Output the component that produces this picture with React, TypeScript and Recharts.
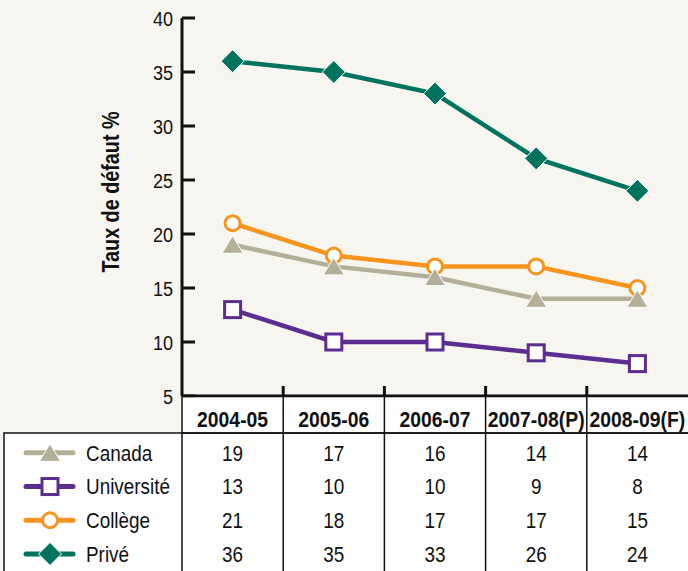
import React from "react";
import { LineChart, Line, XAxis, YAxis } from "recharts";

const years = ["2004-05", "2005-06", "2006-07", "2007-08(P)", "2008-09(F)"];
const canada = [19, 17, 16, 14, 14];
const universite = [13, 10, 10, 9, 8];
const college = [21, 18, 17, 17, 15];
// the plotted point for 2007-08 sits at 27, the table prints 26
const prive = [36, 35, 33, 27, 24];
const priveTable = [36, 35, 33, 26, 24];
const yTicks = [5, 10, 15, 20, 25, 30, 35, 40];

const BG = "#f6f5f0";
const FONT = "'Liberation Sans', Arial, sans-serif";
const SQUEEZE = 0.86; // no narrow font installed, so squeeze the regular one

const W = 688;
const H = 571;
const PLOT_LEFT = 182;
const PLOT_TOP = 18;
const PLOT_BOTTOM = 396;
const COL_W = (W - PLOT_LEFT) / years.length;

const series = [
  { key: "canada", name: "Canada", color: "#b3af99", shape: "triangle", table: canada },
  { key: "universite", name: "Université", color: "#5c2d91", shape: "square", table: universite },
  { key: "college", name: "Collège", color: "#f7941d", shape: "circle", table: college },
  { key: "prive", name: "Privé", color: "#00735e", shape: "diamond", table: priveTable },
];

const data = years.map((year, i) => ({
  year,
  canada: canada[i],
  universite: universite[i],
  college: college[i],
  prive: prive[i],
}));

function NText({
  x,
  y,
  size,
  anchor = "middle",
  bold = false,
  rotate = 0,
  children,
}: {
  x: number;
  y: number;
  size: number;
  anchor?: "start" | "middle" | "end";
  bold?: boolean;
  rotate?: number;
  children: React.ReactNode;
}) {
  return (
    <text
      transform={`translate(${x} ${y}) rotate(${rotate}) scale(${SQUEEZE} 1)`}
      textAnchor={anchor}
      dy="0.36em"
      fontFamily={FONT}
      fontSize={size}
      fontWeight={bold ? "bold" : "normal"}
      fill="#111"
    >
      {children}
    </text>
  );
}

function Marker({ shape, color, cx, cy }: { shape: string; color: string; cx: number; cy: number }) {
  if (shape === "triangle") {
    return (
      <polygon
        points={`${cx},${cy - 9} ${cx + 10.5},${cy + 8.5} ${cx - 10.5},${cy + 8.5}`}
        fill={color}
        stroke="#fff"
        strokeWidth={1}
      />
    );
  }
  if (shape === "square") {
    return <rect x={cx - 8} y={cy - 8} width={16} height={16} fill="#fff" stroke={color} strokeWidth={3} />;
  }
  if (shape === "circle") {
    return <circle cx={cx} cy={cy} r={7.5} fill="#fff" stroke={color} strokeWidth={3} />;
  }
  return (
    <polygon
      points={`${cx},${cy - 11.5} ${cx + 11.5},${cy} ${cx},${cy + 11.5} ${cx - 11.5},${cy}`}
      fill={color}
      stroke="#fff"
      strokeWidth={1}
    />
  );
}

const YTick = (props: any) => {
  const { x, y, payload } = props;
  return (
    <g>
      <line x1={x + 9} x2={x + 22} y1={y} y2={y} stroke="#111" strokeWidth={3} />
      <NText x={x} y={y} size={21} anchor="end">
        {payload.value}
      </NText>
    </g>
  );
};

// draw order: orange below, then grey, purple, teal
const drawOrder = ["college", "canada", "universite", "prive"];

export default function App() {
  const rowTop = 436;
  const rowH = 33.7;
  return (
    <div style={{ position: "fixed", left: 0, top: 0, width: W, height: H, background: BG, overflow: "hidden" }}>
      <LineChart
        width={W}
        height={H}
        data={data}
        margin={{ top: PLOT_TOP, right: 0, bottom: H - PLOT_BOTTOM - 1, left: PLOT_LEFT - 60 }}
      >
        <XAxis
          dataKey="year"
          height={1}
          tick={false}
          tickLine={false}
          padding={{ left: COL_W / 2, right: COL_W / 2 }}
          axisLine={{ stroke: "#111", strokeWidth: 3 }}
        />
        <YAxis
          width={60}
          domain={[5, 40]}
          ticks={yTicks}
          interval={0}
          tickSize={0}
          tickMargin={9}
          tick={<YTick />}
          axisLine={{ stroke: "#111", strokeWidth: 3 }}
          tickLine={false}
        />
        {drawOrder.map((k) => {
          const s = series.find((d) => d.key === k)!;
          return (
            <Line
              key={s.key}
              dataKey={s.key}
              name={s.name}
              stroke={s.color}
              strokeWidth={4.5}
              isAnimationActive={false}
              dot={(p: any) => <Marker key={`${s.key}-${p.index}`} shape={s.shape} color={s.color} cx={p.cx} cy={p.cy} />}
              activeDot={false}
            />
          );
        })}
      </LineChart>

      <svg width={W} height={H} style={{ position: "absolute", left: 0, top: 0, pointerEvents: "none" }}>
        <NText x={111} y={192} size={23} bold rotate={-90}>
          Taux de défaut %
        </NText>

        <rect x={PLOT_LEFT} y={PLOT_BOTTOM + 1.5} width={W - PLOT_LEFT + 4} height={433 - PLOT_BOTTOM - 1.5} fill="#fff" />
        <rect x={4} y={433} width={W} height={H} fill="#fff" stroke="#111" strokeWidth={1.5} />
        <line x1={PLOT_LEFT} x2={W} y1={433} y2={433} stroke="#111" strokeWidth={1.5} />
        <line x1={PLOT_LEFT} x2={PLOT_LEFT} y1={PLOT_BOTTOM} y2={H} stroke="#111" strokeWidth={1.5} />
        {years.slice(1).map((_, i) => {
          const x = PLOT_LEFT + (i + 1) * COL_W;
          return (
            <g key={i}>
              <line x1={x} x2={x} y1={386} y2={PLOT_BOTTOM} stroke="#111" strokeWidth={3} />
              <line x1={x} x2={x} y1={PLOT_BOTTOM} y2={H} stroke="#111" strokeWidth={1.5} />
            </g>
          );
        })}

        {years.map((y, i) => (
          <NText key={y} x={PLOT_LEFT + (i + 0.5) * COL_W} y={419} size={22.5} bold>
            {y}
          </NText>
        ))}

        {series.map((s, r) => {
          const cy = rowTop + (r + 0.5) * rowH;
          return (
            <g key={s.key}>
              <line x1={26} x2={73} y1={cy} y2={cy} stroke={s.color} strokeWidth={5} strokeLinecap="round" />
              <Marker shape={s.shape} color={s.color} cx={50} cy={cy} />
              <NText x={86} y={cy} size={22} anchor="start">
                {s.name}
              </NText>
              {s.table.map((v, i) => (
                <NText key={i} x={PLOT_LEFT + (i + 0.5) * COL_W} y={cy} size={22}>
                  {v}
                </NText>
              ))}
            </g>
          );
        })}
      </svg>
    </div>
  );
}
